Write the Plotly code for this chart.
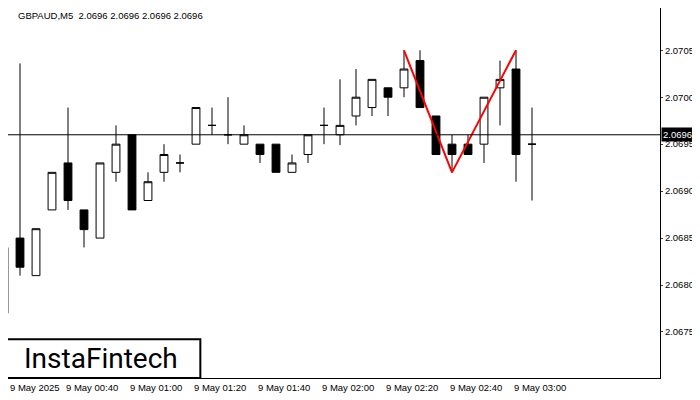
import plotly.graph_objects as go

idx = list(range(34))
opens = [2.06770, 2.06850, 2.06810, 2.06880, 2.06930, 2.06880, 2.06850, 2.06920, 2.06960, 2.06890,
         2.06920, 2.06930, 2.06950, 2.06970, 2.06960, 2.06950, 2.06950, 2.06950, 2.06920, 2.06939,
         2.06970, 2.06960, 2.06980, 2.06989, 2.07010, 2.07010, 2.07039, 2.06980, 2.06950, 2.06950,
         2.06950, 2.07010, 2.07030, 2.06950]
closes = [2.06840, 2.06819, 2.06860, 2.06920, 2.06890, 2.06859, 2.06930, 2.06950, 2.06880, 2.06910,
          2.06939, 2.06930, 2.06989, 2.06970, 2.06960, 2.06960, 2.06939, 2.06920, 2.06930, 2.06960,
          2.06970, 2.06970, 2.07000, 2.07019, 2.07000, 2.07030, 2.06989, 2.06939, 2.06939, 2.06939,
          2.07000, 2.07019, 2.06939, 2.06950]
highs = [2.06920, 2.07036, 2.06860, 2.06920, 2.06989, 2.06880, 2.06930, 2.06970, 2.06960, 2.06920,
         2.06950, 2.06939, 2.06989, 2.06989, 2.07000, 2.06970, 2.06950, 2.06950, 2.06939, 2.06960,
         2.06989, 2.07019, 2.07030, 2.07019, 2.07010, 2.07050, 2.07050, 2.06980, 2.06960, 2.06960,
         2.07000, 2.07039, 2.07050, 2.06989]
lows = [2.06752, 2.06810, 2.06810, 2.06880, 2.06880, 2.06840, 2.06850, 2.06910, 2.06880, 2.06890,
        2.06910, 2.06920, 2.06950, 2.06960, 2.06950, 2.06950, 2.06930, 2.06920, 2.06920, 2.06930,
        2.06950, 2.06949, 2.06970, 2.06980, 2.06980, 2.07000, 2.06989, 2.06939, 2.06920, 2.06939,
        2.06930, 2.06970, 2.06910, 2.06890]

pattern_x = [25, 28, 32]
pattern_y = [2.07050, 2.06920, 2.07050]

tick_pos = [0, 4, 8, 12, 16, 20, 24, 28, 32]
tick_text = ["9 May 2025", "9 May 00:40", "9 May 01:00", "9 May 01:20", "9 May 01:40",
             "9 May 02:00", "9 May 02:20", "9 May 02:40", "9 May 03:00"]
price_ticks = [2.0675, 2.0680, 2.0685, 2.0690, 2.0695, 2.0700, 2.0705]
last_price = 2.0696

lab_font = "Liberation Sans"

fig = go.Figure()
fig.add_trace(go.Candlestick(
    x=idx, open=opens, high=highs, low=lows, close=closes,
    increasing=dict(fillcolor="white", line=dict(color="black", width=1)),
    decreasing=dict(fillcolor="black", line=dict(color="black", width=1)),
    whiskerwidth=0, showlegend=False, hoverinfo="skip"))
fig.add_trace(go.Scatter(x=pattern_x, y=pattern_y, mode="lines",
                         line=dict(color="#ff0000", width=2), showlegend=False))
fig.add_hline(y=last_price, line=dict(color="black", width=1))

for p, t in zip(tick_pos, tick_text):
    if p == 0:
        fig.add_annotation(x=0, xref="paper", y=0, yref="paper", yanchor="top", xanchor="left",
                           text=t, showarrow=False, font=dict(size=9.5, color="black", family=lab_font),
                           yshift=-2)
    else:
        fig.add_annotation(x=p - 0.25, y=0, yref="paper", yanchor="top", xanchor="left",
                           text=t, showarrow=False, font=dict(size=9.5, color="black", family=lab_font),
                           yshift=-2)

fig.add_annotation(x=1, xref="paper", xanchor="left", y=last_price, yanchor="middle",
                   text="2.0696", showarrow=False, bgcolor="black",
                   font=dict(size=9.5, color="white", family=lab_font), borderpad=1, xshift=1)
fig.add_annotation(x=0, xref="paper", y=1, yref="paper", xanchor="left", yanchor="top",
                   text="GBPAUD,M5  2.0696 2.0696 2.0696 2.0696", showarrow=False,
                   font=dict(size=9.5, color="black", family=lab_font), xshift=8)
fig.add_shape(type="rect", xref="paper", yref="paper", x0=-0.01, x1=0.295, y0=0, y1=0.105,
              line=dict(color="black", width=2), fillcolor="white")
fig.add_annotation(x=0.142, xref="paper", y=0.052, yref="paper", xanchor="center", yanchor="middle",
                   text="InstaFintech", showarrow=False,
                   font=dict(size=28, color="black", family="Roboto"))

fig.update_layout(
    width=692, height=392, margin=dict(l=0, r=40, t=0, b=22),
    paper_bgcolor="white", plot_bgcolor="white",
    font=dict(family=lab_font, color="black"),
    xaxis=dict(range=[0.25, 41], showgrid=False, rangeslider=dict(visible=False),
               showticklabels=False, showline=True, linecolor="black", zeroline=False),
    yaxis=dict(range=[2.06701, 2.07095], side="right", tickvals=price_ticks,
               tickformat=".4f", ticks="outside", ticklen=2, tickfont=dict(size=9.5),
               showgrid=False, showline=True, linecolor="black", zeroline=False),
)
fig.write_html("out.html")
